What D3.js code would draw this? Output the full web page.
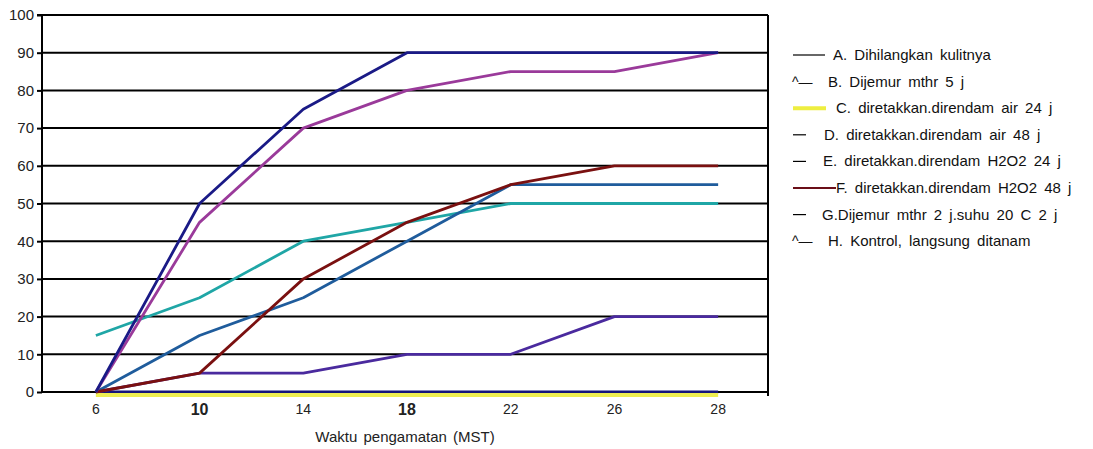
<!DOCTYPE html>
<html><head><meta charset="utf-8">
<script src="https://cdn.jsdelivr.net/npm/d3@7"></script>
<style>body{margin:0;background:#fff}svg{display:block}text{font-family:"Liberation Sans",Arial,sans-serif}</style>
</head><body><svg id="c" width="1093" height="449"></svg>
<script>
const categories = ["6","10","14","18","22","26","28"];
const boldTicks = ["10","18"];
const yTicks = [0,10,20,30,40,50,60,70,80,90,100];
const seriesNames = [
  "A. Dihilangkan kulitnya",
  "B. Dijemur mthr 5 j",
  "C. diretakkan.direndam air 24 j",
  "D. diretakkan.direndam air 48 j",
  "E. diretakkan.direndam H2O2 24 j",
  "F. diretakkan.direndam H2O2 48 j",
  "G.Dijemur mthr 2 j.suhu 20 C 2 j",
  "H. Kontrol, langsung ditanam"
];
const seriesA = [0,0,0,0,0,0,0];
const seriesB = [0,5,5,10,10,20,20];
const seriesC = [0,0,0,0,0,0,0];
const seriesD = [15,25,40,45,50,50,50];
const seriesE = [0,15,25,40,55,55,55];
const seriesF = [0,5,30,45,55,60,60];
const seriesG = [0,45,70,80,85,85,90];
const seriesH = [0,50,75,90,90,90,90];
const seriesColors = ["#14147a","#4a2a9e","#eeee50","#1fa6a6","#1f5c9c","#7a1010","#9a3a9a","#1a1a86"];
const legendGlyph = ["line","^—","thick","—","—","longline","—","^—"];

const allSeries = [seriesA,seriesB,seriesC,seriesD,seriesE,seriesF,seriesG,seriesH];
const svg = d3.select("#c");
const L=42,R=768,T=15,B=392;
const x = d3.scaleBand().domain(categories).range([L+2,R+2]);
const y = d3.scaleLinear().domain([0,100]).range([B,T]);

// gridlines
svg.append("g").selectAll("line").data(yTicks).join("line")
  .attr("x1",L).attr("x2",R).attr("y1",d=>y(d)).attr("y2",d=>y(d))
  .attr("stroke","#000").attr("stroke-width",2);
// right border
svg.append("line").attr("x1",R).attr("x2",R).attr("y1",T).attr("y2",B+4).attr("stroke","#000").attr("stroke-width",2);

// y axis
const ya = svg.append("g").attr("transform",`translate(${L},0)`)
  .call(d3.axisLeft(y).tickValues(yTicks).tickSize(5).tickPadding(3));
ya.select(".domain").attr("stroke","#000").attr("stroke-width",2).attr("d",`M-5,${T}H0V${B}`);
ya.selectAll(".tick line").attr("stroke","#000").attr("stroke-width",2);
ya.selectAll(".tick text").attr("font-size",15).attr("fill","#222").attr("font-family","Liberation Sans, Arial, sans-serif");

// x axis
const xa = svg.append("g").attr("transform",`translate(0,${B})`)
  .call(d3.axisBottom(x).tickSize(0).tickPadding(12));
xa.select(".domain").remove();
xa.selectAll(".tick text")
  .attr("font-size",d=>boldTicks.includes(d)?16:14)
  .attr("font-weight",d=>boldTicks.includes(d)?"bold":"normal")
  .attr("font-family",d=>boldTicks.includes(d)?"Liberation Serif, serif":"Liberation Sans, Arial, sans-serif")
  .attr("fill","#222");
// small tick marks between categories
svg.append("g").selectAll("rect").data(categories.slice(1)).join("rect")
  .attr("x",d=>x(d)-1).attr("y",B+2).attr("width",2).attr("height",2).attr("fill","#000");

svg.append("text").attr("x",405).attr("y",442).attr("text-anchor","middle")
  .attr("font-size",15).attr("fill","#222").attr("word-spacing",2).text("Waktu pengamatan (MST)");

// lines
const line = d3.line().x((d,i)=>x(categories[i])+x.bandwidth()/2).y(d=>y(d));
const offsets=[0,0,3,0,0,0,0,0];
allSeries.forEach((s,i)=>{
  svg.append("path").datum(s).attr("d",line).attr("fill","none")
    .attr("stroke",seriesColors[i]).attr("stroke-width",i===2?4:2.8)
    .attr("stroke-linejoin","round").attr("transform",`translate(0,${offsets[i]})`);
});

// legend
const lg = svg.append("g");
const ly0=55, ldy=26.6;
seriesNames.forEach((n,i)=>{
  const yy=ly0+i*ldy;
  const g=legendGlyph[i];
  let tx=824;
  if(g==="line"){lg.append("line").attr("x1",793).attr("x2",825).attr("y1",yy).attr("y2",yy).attr("stroke","#000").attr("stroke-width",1.2);tx=833;}
  else if(g==="thick"){lg.append("line").attr("x1",793).attr("x2",826).attr("y1",yy).attr("y2",yy).attr("stroke","#eeee40").attr("stroke-width",4);tx=836;}
  else if(g==="longline"){lg.append("line").attr("x1",793).attr("x2",836).attr("y1",yy).attr("y2",yy).attr("stroke","#6a0e18").attr("stroke-width",1.8);tx=836;}
  else if(g==="^—"){lg.append("text").attr("x",792).attr("y",yy+5).attr("font-size",14).attr("fill","#111").text("^—");tx=828;}
  else {lg.append("line").attr("x1",793).attr("x2",806).attr("y1",yy).attr("y2",yy).attr("stroke","#000").attr("stroke-width",1.2);tx=[0,0,0,824,823,0,822][i];}
  lg.append("text").attr("x",tx).attr("y",yy+5).attr("font-size",15).attr("fill","#111")
    .attr("word-spacing",3).text(n);
});
</script></body></html>
